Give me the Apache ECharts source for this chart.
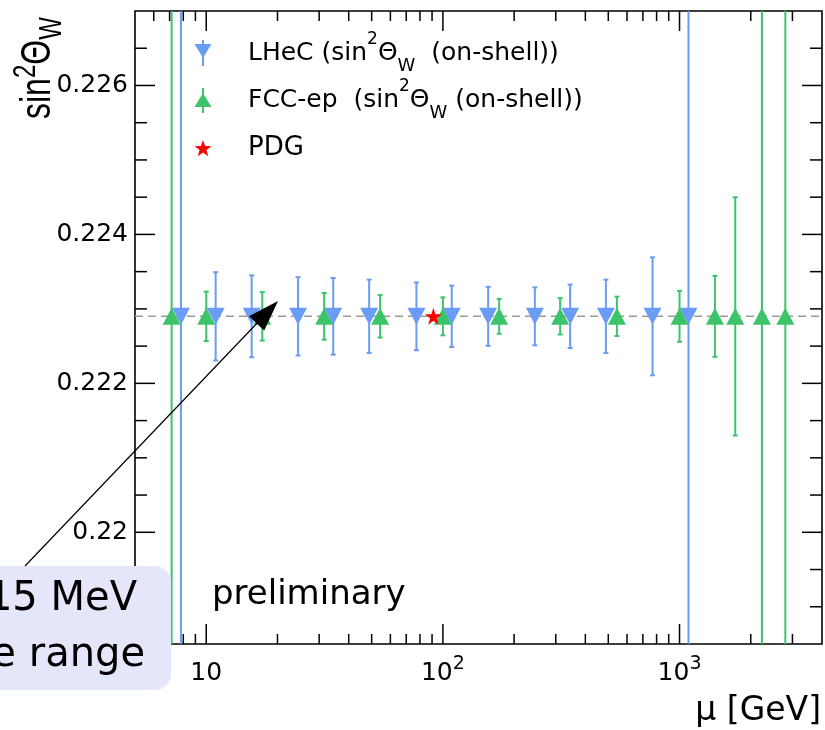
<!DOCTYPE html>
<html><head><meta charset="utf-8">
<script src="https://cdn.jsdelivr.net/npm/echarts@6/dist/echarts.min.js"></script>
<style>html,body{margin:0;padding:0;background:#fff}#c{width:825px;height:730px}</style>
</head><body><div id="c"></div>
<script>
// ---- data ----
const lhecMu   = [7.82, 10.96, 15.56, 24.43, 34.4, 48.8, 77.3, 109.0, 155.3, 244.7, 345, 488.5, 769, 1091];
const lhecSin2 = [0.2229, 0.2229, 0.2229, 0.2229, 0.2229, 0.2229, 0.2229, 0.2229, 0.2229, 0.2229, 0.2229, 0.2229, 0.2229, 0.2229];
const lhecErr  = [0.05, 0.000593, 0.00055, 0.000526, 0.000515, 0.000493, 0.000455, 0.000412, 0.000396, 0.000389, 0.000426, 0.000493, 0.000792, 0.05];
const fccMu    = [7.14, 10.0, 17.25, 31.5, 54.3, 100, 172.9, 313, 543.7, 1000, 1411, 1720, 2229, 2800];
const fccSin2  = [0.2229, 0.2229, 0.2229, 0.2229, 0.2229, 0.2229, 0.2229, 0.2229, 0.2229, 0.2229, 0.2229, 0.2229, 0.2229, 0.2229];
const fccErr   = [0.05, 0.000332, 0.000325, 0.000314, 0.000285, 0.000255, 0.000234, 0.000244, 0.000264, 0.000342, 0.000544, 0.0016, 0.05, 0.05];
const pdgMu    = [91.19];
const pdgSin2  = [0.2229];
const xMajorTicks = [10, 100, 1000];
const xMinorTicks = [6, 7, 8, 9, 20, 30, 40, 50, 60, 70, 80, 90, 200, 300, 400, 500, 600, 700, 800, 900, 2000, 3000];
const yMajorTicks = [0.220, 0.222, 0.224, 0.226];
const yMinorTicks = [0.219, 0.2195, 0.2205, 0.221, 0.2215, 0.2225, 0.223, 0.2235, 0.2245, 0.225, 0.2255, 0.2265];
const X_MIN = 5, X_MAX = 4000, Y_MIN = 0.2185, Y_MAX = 0.227;

const BLUE = '#6a9cf6', GREEN = '#3cc46a', RED = '#ff0000';
const FONT = 'DejaVu Sans';

const chart = echarts.init(document.getElementById('c'), null, {renderer: 'canvas'});

function errRender(color) {
  return function (params, api) {
    const cs = params.coordSys;
    const x = api.value(0), y = api.value(1), e = api.value(2);
    const lo = api.coord([x, y - e]), hi = api.coord([x, y + e]);
    const top = cs.y, bot = cs.y + cs.height;
    const y0 = Math.min(lo[1], bot), y1 = Math.max(hi[1], top);
    const px = lo[0];
    const st = {stroke: color, lineWidth: 2};
    const ch = [{type: 'line', shape: {x1: px, y1: y1, x2: px, y2: y0}, style: st}];
    if (lo[1] < bot) ch.push({type: 'line', shape: {x1: px - 2.5, y1: lo[1], x2: px + 2.5, y2: lo[1]}, style: st});
    if (hi[1] > top) ch.push({type: 'line', shape: {x1: px - 2.5, y1: hi[1], x2: px + 2.5, y2: hi[1]}, style: st});
    return {type: 'group', children: ch};
  };
}
function xTickRender(len) {
  return function (params, api) {
    const cs = params.coordSys;
    const px = api.coord([api.value(0), Y_MIN])[0];
    const st = {stroke: '#000', lineWidth: 1.5};
    return {type: 'group', children: [
      {type: 'line', shape: {x1: px, y1: cs.y + cs.height, x2: px, y2: cs.y + cs.height - len}, style: st},
      {type: 'line', shape: {x1: px, y1: cs.y, x2: px, y2: cs.y + len}, style: st}
    ]};
  };
}
function yTickRender(len) {
  return function (params, api) {
    const cs = params.coordSys;
    const py = api.coord([X_MIN, api.value(1)])[1];
    const st = {stroke: '#000', lineWidth: 1.5};
    return {type: 'group', children: [
      {type: 'line', shape: {x1: cs.x, y1: py, x2: cs.x + len, y2: py}, style: st},
      {type: 'line', shape: {x1: cs.x + cs.width, y1: py, x2: cs.x + cs.width - len, y2: py}, style: st}
    ]};
  };
}
function starPoints(cx, cy, R) {
  const pts = [];
  for (let i = 0; i < 10; i++) {
    const r = i % 2 === 0 ? R : R * 0.4;
    const a = -Math.PI / 2 + i * Math.PI / 5;
    pts.push([cx + r * Math.cos(a), cy + r * Math.sin(a)]);
  }
  return pts;
}
const STAR = 'path://M50,0 L61.2,34.5 L97.6,34.5 L68.2,55.9 L79.4,90.5 L50,69.1 L20.6,90.5 L31.8,55.9 L2.4,34.5 L38.8,34.5 Z';

const txt = (o) => Object.assign({fill: '#000', fontFamily: FONT}, o);

const option = {
  animation: false,
  backgroundColor: '#fff',
  grid: {left: 135, right: 2, top: 11, bottom: 86, show: true, borderColor: '#000', borderWidth: 1.6, backgroundColor: 'transparent'},
  xAxis: {
    type: 'log', logBase: 10, min: X_MIN, max: X_MAX,
    axisLine: {show: false}, axisTick: {show: false}, splitLine: {show: false}, minorTick: {show: false},
    axisLabel: {
      color: '#000', fontFamily: FONT, fontSize: 25, margin: 11, lineHeight: 37,
      formatter: function (v) {
        const e = Math.log10(v);
        if (Math.abs(e - Math.round(e)) > 1e-6) return '';
        const n = Math.round(e);
        return n === 1 ? '10' : '10{sup|' + n + '}';
      },
      rich: {sup: {fontSize: 19, lineHeight: 18, verticalAlign: 'top', fontFamily: FONT, color: '#000'}}
    }
  },
  yAxis: {
    type: 'value', min: Y_MIN, max: Y_MAX, interval: 0.0005,
    axisLine: {show: false}, axisTick: {show: false}, splitLine: {show: false},
    axisLabel: {
      color: '#000', fontFamily: FONT, fontSize: 25, margin: 7,
      formatter: function (v) {
        const k = v / 0.002;
        if (Math.abs(k - Math.round(k)) > 1e-6) return '';
        return String(parseFloat(v.toFixed(4)));
      }
    }
  },
  series: [
    {type: 'custom', name: 'ref', silent: true, z: 2,
     data: pdgMu.map((m, i) => [m, pdgSin2[i]]),
     renderItem: function (params, api) {
       const cs = params.coordSys;
       const py = api.coord([X_MIN, api.value(1)])[1];
       return {type: 'line', shape: {x1: cs.x, y1: py, x2: cs.x + cs.width, y2: py},
               style: {stroke: '#9a9a9a', lineWidth: 1.5, lineDash: [8, 5]}};
     }},
    {type: 'custom', name: 'LHeC err', silent: true, z: 3,
     data: lhecMu.map((m, i) => [m, lhecSin2[i], lhecErr[i]]), renderItem: errRender(BLUE)},
    {type: 'scatter', name: 'LHeC', silent: true, z: 4,
     data: lhecMu.map((m, i) => [m, lhecSin2[i]]),
     symbol: 'triangle', symbolSize: [18, 17], symbolRotate: 180, itemStyle: {color: BLUE, opacity: 1}},
    {type: 'custom', name: 'FCC err', silent: true, z: 5,
     data: fccMu.map((m, i) => [m, fccSin2[i], fccErr[i]]), renderItem: errRender(GREEN)},
    {type: 'scatter', name: 'FCC-ep', silent: true, z: 6,
     data: fccMu.map((m, i) => [m, fccSin2[i]]),
     symbol: 'triangle', symbolSize: [18, 17], itemStyle: {color: GREEN, opacity: 1}},
    {type: 'scatter', name: 'PDG', silent: true, z: 7,
     data: pdgMu.map((m, i) => [m, pdgSin2[i]]),
     symbol: STAR, symbolSize: 17, itemStyle: {color: RED, opacity: 1}},
    {type: 'custom', silent: true, z: 8, data: xMajorTicks.map(v => [v, Y_MIN]), renderItem: xTickRender(20)},
    {type: 'custom', silent: true, z: 8, data: xMinorTicks.map(v => [v, Y_MIN]), renderItem: xTickRender(10)},
    {type: 'custom', silent: true, z: 8, data: yMajorTicks.map(v => [X_MIN, v]), renderItem: yTickRender(20)},
    {type: 'custom', silent: true, z: 8, data: yMinorTicks.map(v => [X_MIN, v]), renderItem: yTickRender(12)}
  ],
  graphic: {elements: [
    // legend
    {type: 'line', z: 100, shape: {x1: 203, y1: 40, x2: 203, y2: 66}, style: {stroke: BLUE, lineWidth: 2}},
    {type: 'polygon', z: 100, shape: {points: [[194.5, 44], [211.5, 44], [203, 58]]}, style: {fill: BLUE}},
    {type: 'line', z: 100, shape: {x1: 203, y1: 88, x2: 203, y2: 113}, style: {stroke: GREEN, lineWidth: 2}},
    {type: 'polygon', z: 100, shape: {points: [[203, 93], [211.5, 107], [194.5, 107]]}, style: {fill: GREEN}},
    {type: 'polygon', z: 100, shape: {points: starPoints(203, 149, 9)}, style: {fill: RED}},
    {type: 'text', z: 100, x: 248, y: 53, style: txt({
      text: 'LHeC (sin{sup|2}Θ{sub|W}  (on-shell))', fontSize: 25, lineHeight: 44,
      align: 'left', verticalAlign: 'middle', textAlign: 'left', textVerticalAlign: 'middle',
      rich: {sup: {fontSize: 17, lineHeight: 16, verticalAlign: 'top', fontFamily: FONT},
             sub: {fontSize: 18, lineHeight: 28, verticalAlign: 'bottom', fontFamily: FONT}}})},
    {type: 'text', z: 100, x: 248, y: 100, style: txt({
      text: 'FCC-ep  (sin{sup|2}Θ{sub|W} (on-shell))', fontSize: 25, lineHeight: 44,
      align: 'left', verticalAlign: 'middle', textAlign: 'left', textVerticalAlign: 'middle',
      rich: {sup: {fontSize: 17, lineHeight: 16, verticalAlign: 'top', fontFamily: FONT},
             sub: {fontSize: 18, lineHeight: 28, verticalAlign: 'bottom', fontFamily: FONT}}})},
    {type: 'text', z: 100, x: 248, y: 148, style: txt({
      text: 'PDG', fontSize: 26, align: 'left', verticalAlign: 'middle', textAlign: 'left', textVerticalAlign: 'middle'})},
    // axis titles
    {type: 'text', z: 100, x: 39, y: 119, rotation: Math.PI / 2, scaleY: 1.3, style: txt({
      text: 'sin{sup|2}Θ{sub|W}', fontFamily: 'Liberation Sans', fontSize: 32, lineHeight: 44,
      align: 'left', verticalAlign: 'middle', textAlign: 'left', textVerticalAlign: 'middle',
      rich: {sup: {fontSize: 24, lineHeight: 22, verticalAlign: 'top', fontFamily: 'Liberation Sans'},
             sub: {fontSize: 24, lineHeight: 28, verticalAlign: 'bottom', fontFamily: 'Liberation Sans'}}})},
    {type: 'text', z: 100, x: 821, y: 711, style: txt({
      text: 'μ [GeV]', fontSize: 33, align: 'right', verticalAlign: 'middle', textAlign: 'right', textVerticalAlign: 'middle'})},
    {type: 'text', z: 100, x: 212, y: 595, style: txt({
      text: 'preliminary', fontSize: 34, align: 'left', verticalAlign: 'middle', textAlign: 'left', textVerticalAlign: 'middle'})},
    // annotation box + arrow
    {type: 'rect', z: 110, shape: {x: -30, y: 566, width: 201, height: 124, r: 16}, style: {fill: '#e6e6fa'}},
    {type: 'text', z: 111, x: 137, y: 600, style: txt({
      text: '15 MeV', fontSize: 40, align: 'right', verticalAlign: 'middle', textAlign: 'right', textVerticalAlign: 'middle'})},
    {type: 'text', z: 111, x: 145, y: 656, style: txt({
      text: 'e range', fontSize: 40, align: 'right', verticalAlign: 'middle', textAlign: 'right', textVerticalAlign: 'middle'})},
    {type: 'line', z: 112, shape: {x1: 25, y1: 566, x2: 262, y2: 318}, style: {stroke: '#000', lineWidth: 1.2}},
    {type: 'polygon', z: 112, shape: {points: [[278, 301], [264.2, 330.6], [249.0, 316.2]]}, style: {fill: '#000'}}
  ]}
};
chart.setOption(option);
</script>
</body></html>
